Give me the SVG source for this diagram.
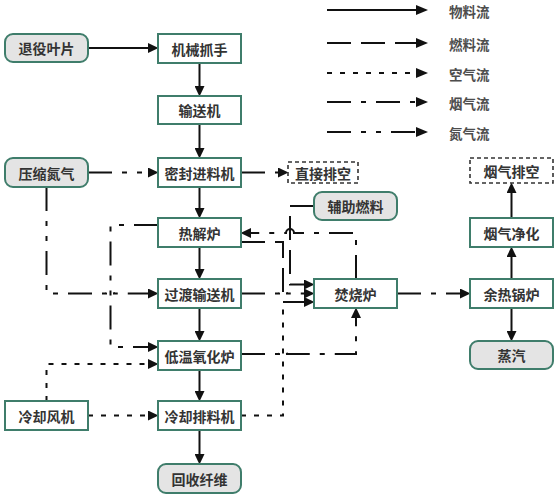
<svg xmlns="http://www.w3.org/2000/svg" width="559" height="500" viewBox="0 0 559 500">
<style>
.box{fill:#fff;stroke:#3f7d6b;stroke-width:2}
.gray{fill:#e4e4e4;stroke:#3f7d6b;stroke-width:2}
.vent{fill:#fff;stroke:#333;stroke-width:1.6;stroke-dasharray:4 3}
.t{font-family:"Noto Sans CJK SC","Noto Sans",sans-serif;font-size:14px;font-weight:bold;fill:#333;text-anchor:middle;dominant-baseline:central}
.lt{font-family:"Noto Sans CJK SC","Noto Sans",sans-serif;font-size:13.5px;font-weight:bold;fill:#4d4d4d;dominant-baseline:central}
.c{fill:none;stroke:#111;stroke-width:2}
.mat{}
.fuel{stroke-dasharray:24 10}
.air{stroke-dasharray:5 8}
.flue{stroke-dasharray:24 10 5 10}
.n2{stroke-dasharray:24 10 5 10 5 10}
</style>
<defs>
<marker id="a" markerUnits="userSpaceOnUse" markerWidth="11" markerHeight="10" refX="2" refY="5" orient="auto">
<path d="M0,0 L10.5,5 L0,10 z" fill="#111"/>
</marker>
<marker id="al" markerUnits="userSpaceOnUse" markerWidth="12" markerHeight="11" refX="2" refY="5" orient="auto">
<path d="M0,0 L12,5 L0,10 z" fill="#111"/>
</marker>
</defs>

<g id="legend">
<path class="c mat" d="M327,10 H418" marker-end="url(#al)"/>
<path class="c fuel" d="M327,43 H418" marker-end="url(#al)"/>
<path class="c air" d="M327,73 H418" marker-end="url(#al)"/>
<path class="c flue" d="M327,102 H418" marker-end="url(#al)"/>
<path class="c n2" d="M327,132 H418" marker-end="url(#al)"/>
<text class="lt" x="449" y="11">物料流</text>
<text class="lt" x="449" y="44">燃料流</text>
<text class="lt" x="449" y="74">空气流</text>
<text class="lt" x="449" y="103">烟气流</text>
<text class="lt" x="449" y="133">氮气流</text>
</g>

<g id="connectors">
<path class="c mat" d="M88,48 H150" marker-end="url(#a)"/>
<path class="c mat" d="M199.5,63 V88" marker-end="url(#a)"/>
<path class="c mat" d="M199.5,124 V150" marker-end="url(#a)"/>
<path class="c mat" d="M199.5,187 V210" marker-end="url(#a)"/>
<path class="c mat" d="M199.5,247 V271" marker-end="url(#a)"/>
<path class="c mat" d="M199.5,308 V333" marker-end="url(#a)"/>
<path class="c mat" d="M199.5,370 V393" marker-end="url(#a)"/>
<path class="c mat" d="M199.5,430 V456" marker-end="url(#a)"/>
<path class="c mat" d="M511.5,279 V255" marker-end="url(#a)"/>
<path class="c mat" d="M511.5,218 V191" marker-end="url(#a)"/>
<path class="c mat" d="M511.5,308 V333" marker-end="url(#a)"/>

<path class="c n2" d="M88,172.5 H150" marker-end="url(#a)"/>
<path class="c n2" d="M241,172.5 H280" marker-end="url(#a)"/>
<path class="c n2" d="M46.5,187 V293.5 H106 A4,4 0 0 1 114,293.5 H150" marker-end="url(#a)"/>
<path class="c n2" d="M158,225 H110.5 V347 H150" marker-end="url(#a)"/>
<path class="c n2" d="M241,293.5 H279 A4,4 0 0 1 287,293.5 H306" marker-end="url(#a)"/>

<path class="c fuel" d="M241,242 H283 V302 H306" marker-end="url(#a)"/>
<path class="c fuel" d="M314,206 H290 V284.5 H306" marker-end="url(#a)"/>

<path class="c flue" d="M356,279 V233 H294 A4,4 0 0 0 286,233 H249" marker-end="url(#a)"/>
<path class="c flue" d="M241,354 H279 A4,4 0 0 1 287,354 H356 V316" marker-end="url(#a)"/>
<path class="c flue" d="M397,293.5 H462" marker-end="url(#a)"/>

<path class="c air" d="M46.5,401 V364 H150" marker-end="url(#a)"/>
<path class="c air" d="M88,415.5 H150" marker-end="url(#a)"/>
<path class="c air" d="M241,415.5 H283 V302"/>
</g>

<g id="n1"><rect class="gray" x="5" y="34" width="83" height="28" rx="8"/><text class="t" x="46.5" y="48">退役叶片</text></g>
<g id="n2"><rect class="box" x="158" y="34" width="83" height="29"/><text class="t" x="199.5" y="48.5">机械抓手</text></g>
<g id="n3"><rect class="box" x="158" y="96" width="83" height="28"/><text class="t" x="199.5" y="110">输送机</text></g>
<g id="n4"><rect class="gray" x="5" y="158" width="83" height="29" rx="8"/><text class="t" x="46.5" y="172.5">压缩氮气</text></g>
<g id="n5"><rect class="box" x="158" y="158" width="83" height="29"/><text class="t" x="199.5" y="172.5">密封进料机</text></g>
<g id="n6"><rect class="vent" x="288" y="162" width="70" height="21"/><text class="t" x="323" y="172.5">直接排空</text></g>
<g id="n7"><rect class="gray" x="314" y="192" width="83" height="28" rx="8"/><text class="t" x="355.5" y="206">辅助燃料</text></g>
<g id="n8"><rect class="box" x="158" y="218" width="83" height="29"/><text class="t" x="199.5" y="232.5">热解炉</text></g>
<g id="n9"><rect class="box" x="158" y="279" width="83" height="29"/><text class="t" x="199.5" y="293.5">过渡输送机</text></g>
<g id="n10"><rect class="box" x="314" y="279" width="83" height="29"/><text class="t" x="355.5" y="293.5">焚烧炉</text></g>
<g id="n11"><rect class="box" x="470" y="279" width="83" height="29"/><text class="t" x="511.5" y="293.5">余热锅炉</text></g>
<g id="n12"><rect class="box" x="470" y="218" width="83" height="29"/><text class="t" x="511.5" y="232.5">烟气净化</text></g>
<g id="n13"><rect class="vent" x="470" y="158" width="83" height="25"/><text class="t" x="511.5" y="170.5">烟气排空</text></g>
<g id="n14"><rect class="gray" x="470" y="341" width="83" height="28" rx="8"/><text class="t" x="511.5" y="355">蒸汽</text></g>
<g id="n15"><rect class="box" x="158" y="341" width="83" height="29"/><text class="t" x="199.5" y="355.5">低温氧化炉</text></g>
<g id="n16"><rect class="box" x="5" y="401" width="83" height="29"/><text class="t" x="46.5" y="415.5">冷却风机</text></g>
<g id="n17"><rect class="box" x="158" y="401" width="83" height="29"/><text class="t" x="199.5" y="415.5">冷却排料机</text></g>
<g id="n18"><rect class="gray" x="158" y="464" width="83" height="29" rx="8"/><text class="t" x="199.5" y="478.5">回收纤维</text></g>
</svg>
